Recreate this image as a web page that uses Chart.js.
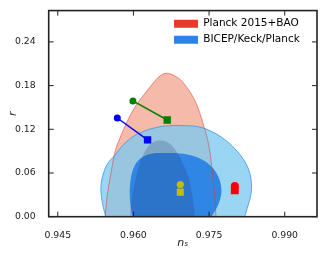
<!DOCTYPE html>
<html>
<head>
<meta charset="utf-8">
<script src="https://cdn.jsdelivr.net/npm/chart.js@4.4.1/dist/chart.umd.min.js"></script>
<style>
  html, body { margin: 0; padding: 0; background: #fff; }
</style>
</head>
<body>
<canvas id="ns-r" width="327" height="257"></canvas>
<script>
var xTicks = [0.945, 0.960, 0.975, 0.990];
var yTicks = [0.00, 0.06, 0.12, 0.18, 0.24];

var legendNames = ["Planck 2015+BAO", "BICEP/Keck/Planck"];
var legendColors = ["#e63a2a", "#2a84e8"];

// contours (ns, r)
var planck95Ns = [0.95431,0.95441,0.95471,0.95497,0.95564,0.95643,0.95729,0.95847,0.95966,0.96085,0.96224,0.96363,0.96482,0.96581,0.96660,0.96739,0.96838,0.96937,0.97036,0.97135,0.97234,0.97314,0.97393,0.97452,0.97512,0.97551,0.97581,0.97611,0.97631,0.97637];
var planck95R  = [-0.0072,0,0.0228,0.0364,0.0637,0.0910,0.1073,0.1264,0.1428,0.1564,0.1687,0.1810,0.1905,0.1955,0.1969,0.1960,0.1925,0.1878,0.1796,0.1700,0.1571,0.1428,0.1250,0.1114,0.0910,0.0705,0.0500,0.0296,0.0091,-0.0072];

var planck68Ns = [0.95907,0.95927,0.95966,0.96016,0.96085,0.96164,0.96264,0.96382,0.96521,0.96640,0.96759,0.96878,0.96997,0.97096,0.97155,0.97195,0.97215,0.97221];
var planck68R  = [-0.0072,0,0.0228,0.0432,0.0637,0.0801,0.0937,0.1019,0.1046,0.1032,0.0978,0.0869,0.0705,0.0528,0.0337,0.0160,0,-0.0072];

var bicep95Ns = [0.95461,0.95451,0.95402,0.95362,0.95362,0.95412,0.95491,0.95629,0.95788,0.95966,0.96164,0.96442,0.96719,0.97017,0.97314,0.97571,0.97809,0.98007,0.98166,0.98275,0.98334,0.98334,0.98275,0.98205,0.98176];
var bicep95R  = [-0.0072,0,0.0132,0.0296,0.0460,0.0610,0.0732,0.0841,0.0978,0.1087,0.1162,0.1223,0.1250,0.1250,0.1230,0.1162,0.1060,0.0937,0.0801,0.0664,0.0500,0.0323,0.0160,0,-0.0072];

var bicep68Ns = [0.96006,0.95986,0.95946,0.95927,0.95937,0.95976,0.96065,0.96204,0.96382,0.96620,0.96917,0.97155,0.97373,0.97551,0.97680,0.97740,0.97730,0.97660,0.97551,0.97512];
var bicep68R  = [-0.0072,0,0.0132,0.0296,0.0460,0.0610,0.0746,0.0828,0.0869,0.0875,0.0869,0.0841,0.0780,0.0685,0.0555,0.0405,0.0269,0.0132,0,-0.0072];

// model points: circle first, square second
var greenNs = [0.9599, 0.9667],  greenR = [0.159, 0.1328];
var blueNs = [0.9568, 0.9628],   blueR = [0.1355, 0.1055];
var yellowNs = [0.9693, 0.9693], yellowR = [0.0442, 0.0337];
var redNs = [0.9801, 0.9801],    redR = [0.0423, 0.0364];

function pts(ns, r) {
  return ns.map(function (v, i) { return { x: v, y: r[i] }; });
}

function contour(ns, r, fillColor, lineColor, lineWidth, order) {
  return {
    data: pts(ns, r),
    showLine: true,
    fill: fillColor ? 'shape' : false,
    backgroundColor: fillColor || 'rgba(0,0,0,0)',
    borderColor: lineColor || 'rgba(0,0,0,0)',
    borderWidth: lineWidth,
    tension: 0.4,
    pointRadius: 0,
    order: order
  };
}

function markers(ns, r, color, line, sizes) {
  return {
    data: pts(ns, r),
    showLine: line,
    borderColor: color,
    borderWidth: 1.5,
    pointStyle: ['circle', 'rect'],
    pointRadius: sizes,
    pointBackgroundColor: color,
    pointBorderWidth: 0,
    order: 0
  };
}

var frame = {
  id: 'frame',
  afterDatasetsDraw: function (chart) {
    var ctx = chart.ctx, a = chart.chartArea;
    var xs = chart.scales.x, ys = chart.scales.y;
    ctx.save();
    ctx.strokeStyle = '#222';
    ctx.lineWidth = 1;
    ctx.beginPath();
    xs.ticks.forEach(function (t) {
      var p = xs.getPixelForValue(t.value);
      ctx.moveTo(p, a.bottom); ctx.lineTo(p, a.bottom - 5);
      ctx.moveTo(p, a.top); ctx.lineTo(p, a.top + 5);
    });
    ys.ticks.forEach(function (t) {
      var p = ys.getPixelForValue(t.value);
      ctx.moveTo(a.left, p); ctx.lineTo(a.left + 5, p);
      ctx.moveTo(a.right, p); ctx.lineTo(a.right - 5, p);
    });
    ctx.stroke();
    ctx.lineWidth = 1.6;
    ctx.strokeRect(a.left, a.top, a.right - a.left, a.bottom - a.top);
    ctx.restore();
  }
};

// move the in-plot legend to the upper right corner
var legendPos = {
  id: 'legendPos',
  afterLayout: function (chart) {
    var lg = chart.legend;
    lg.left = 168.5;
    lg.top = 13;
  }
};

Chart.defaults.font.family = 'DejaVu Sans';
Chart.defaults.color = '#222';

new Chart(document.getElementById('ns-r'), {
  type: 'scatter',
  data: {
    datasets: [
      markers(greenNs, greenR, '#008000', true, [3.5, 5.2]),
      markers(blueNs, blueR, '#0000ff', true, [3.5, 5.2]),
      markers(yellowNs, yellowR, '#bfbf00', false, [3.6, 5.0]),
      markers(redNs, redR, '#ff0000', false, [4.0, 5.6]),
      contour(planck95Ns, planck95R, null, 'rgba(220,60,50,0.55)', 1, 2),
      contour(planck68Ns, planck68R, 'rgba(30,40,100,0.2)', null, 0, 3),
      contour(bicep68Ns, bicep68R, 'rgba(38,128,228,0.92)', null, 0, 4),
      contour(bicep95Ns, bicep95R, 'rgba(120,200,240,0.75)', 'rgba(70,150,230,0.85)', 1, 5),
      contour(planck95Ns, planck95R, 'rgba(240,140,115,0.6)', null, 0, 6)
    ]
  },
  options: {
    responsive: false,
    animation: false,
    events: [],
    layout: { padding: { left: 0, right: 10, top: 9.3, bottom: 0 } },
    scales: {
      x: {
        type: 'linear',
        min: 0.9432,
        max: 0.9964,
        afterFit: function (s) { s.height = 40.3; },
        afterBuildTicks: function (s) { s.ticks = xTicks.map(function (v) { return { value: v }; }); },
        grid: { display: false },
        border: { display: false },
        ticks: { padding: 5, font: { size: 9.3 }, callback: function (v) { return v.toFixed(3); } },
        title: { display: true, text: 'nₛ', font: { size: 11, style: 'italic' }, padding: { top: 0, bottom: 7.7 } }
      },
      y: {
        type: 'linear',
        min: 0,
        max: 0.283,
        afterFit: function (s) { s.width = 48.7; },
        afterBuildTicks: function (s) { s.ticks = yTicks.map(function (v) { return { value: v }; }); },
        grid: { display: false },
        border: { display: false },
        ticks: { padding: 5, font: { size: 9.3 }, callback: function (v) { return v.toFixed(2); } },
        title: { display: true, text: 'r', font: { size: 11, style: 'italic' }, padding: { top: 6.1, bottom: 0 } }
      }
    },
    plugins: {
      tooltip: { enabled: false },
      legend: {
        position: 'chartArea',
        align: 'start',
        labels: {
          boxWidth: 24,
          boxHeight: 8,
          padding: 5.5,
          color: '#222',
          font: { size: 10.5 },
          generateLabels: function () {
            return legendNames.map(function (n, i) {
              return { text: n, fillStyle: legendColors[i], strokeStyle: legendColors[i], lineWidth: 0, hidden: false, datasetIndex: i };
            });
          }
        }
      }
    }
  },
  plugins: [frame, legendPos]
});
</script>
</body>
</html>
